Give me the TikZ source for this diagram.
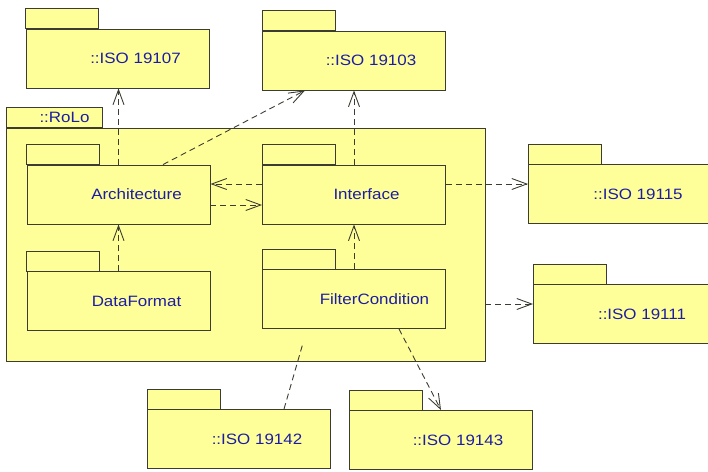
\documentclass[tikz,border=0pt]{standalone}
\usepackage{fontspec}
\usepackage{tikz}
\usetikzlibrary{arrows.meta}
\newfontfamily\pkgfont[FakeStretch=1.13]{Liberation Sans}
\definecolor{pkgfill}{RGB}{255,255,153}
\definecolor{pkgtext}{RGB}{28,28,165}
\definecolor{pkgline}{RGB}{60,60,50}

\begin{document}
\begin{tikzpicture}[x=1pt,y=-1pt,
  pkg/.style={draw=pkgline, line width=0.9pt, fill=pkgfill, rectangle,
    minimum width=183pt, minimum height=59pt, inner sep=0pt,
    text=pkgtext, font=\pkgfont\fontsize{15}{18}\selectfont,
    execute at begin node={\hspace*{#1}}},
  pkg/.default=36pt,
  pkgtab/.style={draw=pkgline, line width=0.9pt, fill=pkgfill},
  dep/.style={draw=pkgline, line width=0.9pt, dash pattern=on 6pt off 4pt,
    -{Straight Barb[length=15pt,width=11pt,line width=0.9pt]}}]
  \useasboundingbox (0,0) rectangle (708,471);

  % outer package
  \node[pkg=0pt, minimum width=479pt, minimum height=233pt] (rolo) at (245.5,244.5) {};
  \node[pkg=21pt, minimum width=96pt, minimum height=20pt, anchor=south west]
    (rolotab) at (rolo.north west) {::RoLo};

  \node[pkg] (iso07) at (117.5,58.5) {::ISO 19107};
  \node[pkg=34pt] (iso03) at (354,60.5) {::ISO 19103};
  \node[pkg] (arch) at (118.5,194.5) {Architecture};
  \node[pkg=25pt] (intf) at (354,194.5) {Interface};
  \node[pkg] (dfmt) at (118.5,301) {DataFormat};
  \node[pkg=41pt] (fcond) at (354,299) {FilterCondition};
  \node[pkg] (iso15) at (620,194) {::ISO 19115};
  \node[pkg=34pt] (iso11) at (625,314) {::ISO 19111};
  \node[pkg] (iso42) at (239,439) {::ISO 19142};
  \node[pkg=34pt] (iso43) at (441,440) {::ISO 19143};

  \foreach \p in {iso07,iso03,arch,intf,dfmt,fcond,iso15,iso11,iso42,iso43}
    \draw[pkgtab] (\p.north west) rectangle ++(73,-20);

  \draw[dep] (arch.north) -- (arch.north |- iso07.south);
  \draw[dep] ([xshift=44.5pt]arch.north) -- ([xshift=-49pt]iso03.south);
  \draw[dep] (intf.north) -- (iso03.south);
  \draw[dep] ([yshift=10.5pt]intf.west) -- ([yshift=10.5pt]arch.east);
  \draw[dep] ([yshift=-10.5pt]arch.east) -- ([yshift=-10.5pt]intf.west);
  \draw[dep] (dfmt.north) -- (arch.south);
  \draw[dep] (fcond.north) -- (intf.south);
  \draw[dep] ([yshift=10.5pt]intf.east) -- ([yshift=10.5pt]intf.east -| iso15.west);
  \draw[dep] ([yshift=10pt]iso11.west -| rolo.east) -- ([yshift=10pt]iso11.west);
  \draw[dep] ([xshift=45pt]fcond.south) -- (iso43.north);
  \coordinate (cut) at (303,343);
  \draw[dep, -] ([xshift=45pt]iso42.north) -- (cut);
\end{tikzpicture}
\end{document}
